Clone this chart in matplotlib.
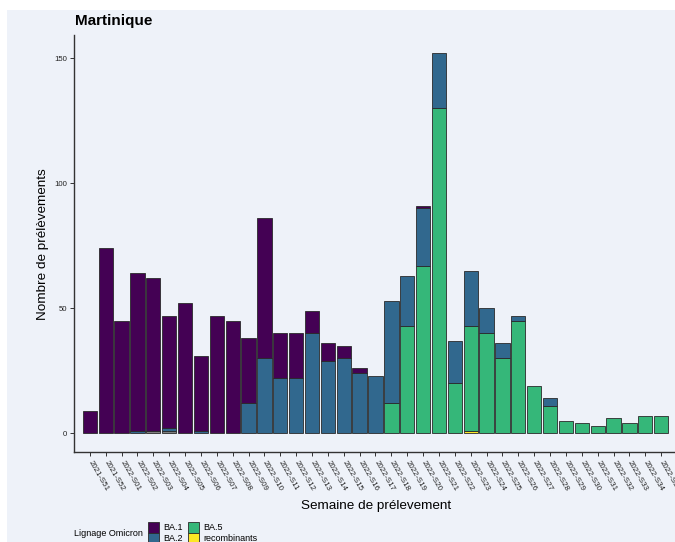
import matplotlib
matplotlib.use("Agg")
import matplotlib.pyplot as plt
from matplotlib.patches import Rectangle
import numpy as np

plt.rcParams['font.family'] = ['Liberation Sans', 'DejaVu Sans']

weeks = ["2021-S51", "2021-S52"] + ["2022-S%02d" % i for i in range(1, 36)]

ba1 = [9, 74, 45, 63, 61, 45, 52, 30, 47, 45, 26, 56, 18, 18, 9, 7, 5, 2, 0, 0, 0, 1, 0,
       0, 0, 0, 0, 0, 0, 0, 0, 0, 0, 0, 0, 0, 0]
ba2 = [0, 0, 0, 1, 0, 1, 0, 1, 0, 0, 12, 30, 22, 22, 40, 29, 30, 24, 23, 41, 20, 23, 22,
       17, 22, 10, 6, 2, 0, 3, 0, 0, 0, 0, 0, 0, 0]
ba5 = [0, 0, 0, 0, 0, 0, 0, 0, 0, 0, 0, 0, 0, 0, 0, 0, 0, 0, 0, 12, 43, 67, 130,
       20, 42, 40, 30, 45, 19, 11, 5, 4, 3, 6, 4, 7, 7]
recomb = [0] * 24 + [1] + [0] * 12
na_vals = [0, 0, 0, 0, 1, 1] + [0] * 31

lineages = ["BA.1", "BA.2", "BA.5", "recombinants"]
colors = {"BA.1": "#440154", "BA.2": "#31688E", "BA.5": "#35B779",
          "recombinants": "#FDE725", "NA": "#7F7F7F"}

W, H = 675, 542
bg = "#EEF2F9"
fig = plt.figure(figsize=(W / 100, H / 100), dpi=100, facecolor="white")
fig.patches.append(Rectangle((7 / W, 0), 1, 1 - 10 / H, transform=fig.transFigure,
                             facecolor=bg, edgecolor="none", zorder=-10))

ax = fig.add_axes([74 / W, 90.3 / H, 603 / W, 416.7 / H])
ax.set_facecolor(bg)

x = np.arange(len(weeks))
# stacking order bottom -> top: NA, recombinants, BA.5, BA.2, BA.1
stack = [("NA", na_vals), ("recombinants", recomb), ("BA.5", ba5), ("BA.2", ba2), ("BA.1", ba1)]
bottom = np.zeros(len(weeks))
for name, vals in stack:
    v = np.array(vals, dtype=float)
    mask = v > 0
    ax.bar(x[mask], v[mask], bottom=bottom[mask], width=0.9,
           color=colors[name], edgecolor="#2a2a2a", linewidth=0.6, zorder=3)
    bottom += v

ax.set_xlim(-1.0, 37.0)
ax.set_ylim(-7.4, 159.3)
ax.set_yticks([0, 50, 100, 150])
ax.set_xticks(x)
ax.set_xticklabels(weeks, rotation=-60, ha="left", va="center",
                   rotation_mode="anchor", fontsize=5.7, color="#222222")
for lab in ax.get_yticklabels():
    lab.set_fontsize(5.6)
    lab.set_color("#222222")
ax.tick_params(axis="both", length=3, width=0.7, color="#333333", pad=2)
ax.tick_params(axis="x", pad=4)
for s in ["top", "right"]:
    ax.spines[s].set_visible(False)
for s in ["left", "bottom"]:
    ax.spines[s].set_linewidth(1.0)
    ax.spines[s].set_color("#333333")

fig.text(75 / W, 1 - 21 / H, "Martinique", fontsize=11, fontweight="bold",
         ha="left", va="center", color="black")
fig.text(43 / W, 1 - 244 / H, "Nombre de prélèvements", fontsize=9.7,
         rotation=90, ha="center", va="center", color="black")
fig.text(376 / W, 1 - 506 / H, "Semaine de prélevement", fontsize=9.7,
         ha="center", va="center", color="black")

# legend
fig.text(74 / W, 1 - 534 / H, "Lignage Omicron", fontsize=6.5, ha="left", va="center")
key_pos = {"BA.1": (148, 522), "BA.2": (148, 533), "BA.5": (188, 522), "recombinants": (188, 533)}
for name in lineages:
    kx, ky = key_pos[name]
    fig.patches.append(Rectangle((kx / W, 1 - (ky + 11) / H), 11 / W, 11 / H,
                                 transform=fig.transFigure, facecolor=colors[name],
                                 edgecolor="#2a2a2a", linewidth=0.6))
    fig.text((kx + 15) / W, 1 - (ky + 5.5) / H, name, fontsize=6.5, ha="left", va="center")

fig.savefig("out.png", dpi=100, facecolor="white")
